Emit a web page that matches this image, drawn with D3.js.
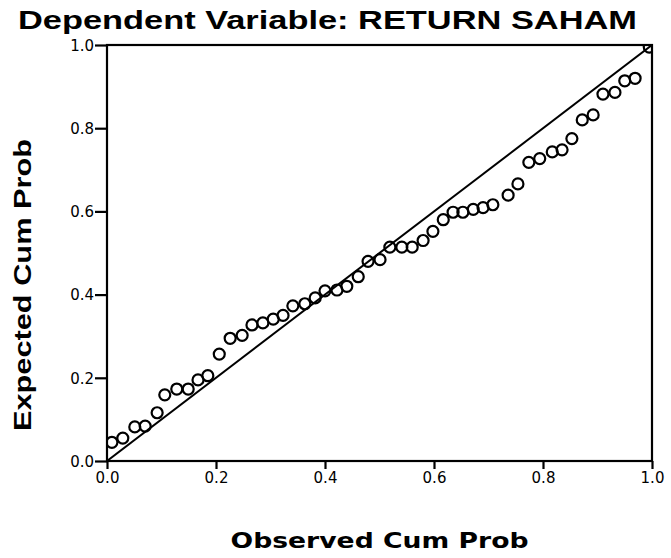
<!DOCTYPE html>
<html><head><meta charset="utf-8">
<script src="https://cdn.jsdelivr.net/npm/d3@7"></script>
<style>body{margin:0;background:#fff}</style>
</head><body>
<script>
const observed = [0.009,0.029,0.051,0.070,0.092,0.106,0.128,0.149,0.167,0.185,0.206,0.226,0.248,0.266,0.286,0.305,0.323,0.341,0.363,0.382,0.400,0.422,0.440,0.461,0.479,0.501,0.519,0.541,0.560,0.580,0.598,0.617,0.635,0.653,0.672,0.690,0.708,0.736,0.754,0.774,0.794,0.817,0.835,0.853,0.872,0.892,0.910,0.932,0.950,0.969,0.995];
const expected = [0.045,0.055,0.082,0.084,0.116,0.159,0.173,0.173,0.195,0.205,0.257,0.295,0.302,0.327,0.332,0.341,0.350,0.373,0.378,0.392,0.409,0.411,0.420,0.443,0.480,0.484,0.514,0.514,0.514,0.530,0.552,0.580,0.598,0.598,0.605,0.609,0.616,0.639,0.666,0.718,0.727,0.743,0.748,0.775,0.820,0.832,0.882,0.886,0.914,0.920,0.995];
const tickValues = [0.0,0.2,0.4,0.6,0.8,1.0];
const titleText = "Dependent Variable: RETURN SAHAM";
const xTitle = "Observed Cum Prob";
const yTitle = "Expected Cum Prob";

const W = 671, H = 558;
const m = {left:107, right:19, top:45, bottom:97};
const svg = d3.select("body").append("svg").attr("width",W).attr("height",H);
const x = d3.scaleLinear().domain([0,1]).range([m.left, W-m.right]);
const y = d3.scaleLinear().domain([0,1]).range([H-m.bottom, m.top]);

svg.append("defs").append("clipPath").attr("id","clip")
  .append("rect").attr("x",m.left).attr("y",m.top).attr("width",W-m.right-m.left).attr("height",H-m.bottom-m.top);

svg.append("text").attr("x",18).attr("y",29)
  .attr("font-family","Liberation Sans, Arial, sans-serif").attr("font-weight","bold")
  .attr("font-size",26).attr("textLength",619).attr("lengthAdjust","spacingAndGlyphs")
  .text(titleText);

const xa = svg.append("g").attr("transform",`translate(0,${H-m.bottom})`)
  .call(d3.axisBottom(x).tickValues(tickValues).tickFormat(d3.format(".1f")).tickSize(8).tickSizeOuter(0));
const ya = svg.append("g").attr("transform",`translate(${m.left},0)`)
  .call(d3.axisLeft(y).tickValues(tickValues).tickFormat(d3.format(".1f")).tickSize(12).tickSizeOuter(0));
[xa,ya].forEach(g=>{
  g.select(".domain").remove();
  g.selectAll("line").attr("stroke","#000").attr("stroke-width",2.2);
  g.selectAll("text").attr("font-family","DejaVu Sans, sans-serif").attr("font-size",15).attr("fill","#000");
});
xa.selectAll("text").attr("y",11).attr("dy","0.71em");
ya.selectAll("text").attr("x",-13).attr("dy","0.35em");

// frame
svg.append("rect").attr("x",m.left).attr("y",m.top).attr("width",W-m.right-m.left).attr("height",H-m.bottom-m.top)
  .attr("fill","none").attr("stroke","#000").attr("stroke-width",2.2);

const plot = svg.append("g").attr("clip-path","url(#clip)");
plot.append("line").attr("x1",x(0)).attr("y1",y(0)).attr("x2",x(1)).attr("y2",y(1))
  .attr("stroke","#000").attr("stroke-width",2);
plot.selectAll("circle").data(observed).join("circle")
  .attr("cx",d=>x(d)).attr("cy",(d,i)=>y(expected[i])).attr("r",5.5)
  .attr("fill","none").attr("stroke","#000").attr("stroke-width",2.2);

svg.append("text").attr("x",(x(0)+x(1))/2).attr("y",548).attr("text-anchor","middle")
  .attr("font-family","DejaVu Sans, sans-serif").attr("font-weight","bold")
  .attr("font-size",21).attr("textLength",298).attr("lengthAdjust","spacingAndGlyphs")
  .text(xTitle);

svg.append("text").attr("transform","translate(31,285) rotate(-90)").attr("text-anchor","middle")
  .attr("font-family","Liberation Sans, Arial, sans-serif").attr("font-weight","bold")
  .attr("font-size",23).attr("textLength",292).attr("lengthAdjust","spacingAndGlyphs")
  .text(yTitle);
</script>
</body></html>
